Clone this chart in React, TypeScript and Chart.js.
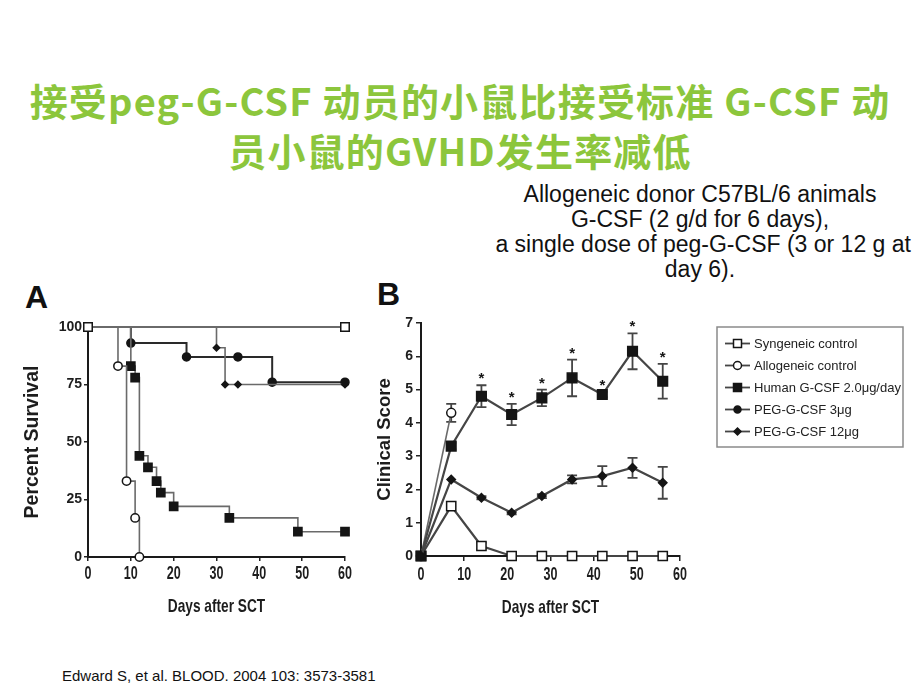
import React, { useEffect, useRef } from 'react';
import { Chart, registerables } from 'chart.js';

Chart.register(...registerables);

// ---------- Text ----------
const titleLines = ['接受peg-G-CSF 动员的小鼠比接受标准 G-CSF 动', '员小鼠的GVHD发生率减低'];
const noteLines = [
  'Allogeneic donor C57BL/6 animals',
  'G-CSF (2 g/d for 6 days),',
  ' a single dose of peg-G-CSF (3 or 12 g at',
  'day 6).',
];
const citation = 'Edward S, et al. BLOOD. 2004 103: 3573-3581';
const xAxisTitle = 'Days after SCT';
const survivalAxisTitle = 'Percent Survival';
const scoreAxisTitle = 'Clinical Score';
const legendLabels = [
  'Syngeneic control',
  'Allogeneic control',
  'Human G-CSF 2.0μg/day',
  'PEG-G-CSF 3μg',
  'PEG-G-CSF 12μg',
];

// ---------- Panel A: survival (Kaplan-Meier) ----------
const kmSyngeneicDays = [0, 60];
const kmSyngeneicPct = [100, 100];
const kmAllogeneicDays = [0, 7, 9, 11, 12];
const kmAllogeneicPct = [100, 83, 33, 17, 0];
const kmHumanDays = [0, 10, 11, 12, 14, 16, 17, 20, 33, 49, 60];
const kmHumanPct = [100, 83, 78, 44, 39, 33, 28, 22, 17, 11, 11];
const kmPeg3Days = [0, 10, 23, 35, 43, 60];
const kmPeg3Pct = [100, 93, 87, 87, 76, 76];
const kmPeg12Days = [0, 30, 32, 35, 60];
const kmPeg12Pct = [100, 91, 75, 75, 75];

// ---------- Panel B: clinical score ----------
const scoreDays = [0, 7, 14, 21, 28, 35, 42, 49, 56];
const scoreSyngeneic = [0, 1.5, 0.3, 0, 0, 0, 0, 0, 0];
const errSyngeneic = [0, 0, 0.1, 0, 0, 0, 0, 0, 0];
const scoreAllogeneicDays = [0, 7];
const scoreAllogeneic = [0, 4.3];
const errAllogeneic = [0, 0.27];
const scoreHuman = [0, 3.3, 4.8, 4.25, 4.75, 5.35, 4.85, 6.15, 5.25];
const errHuman = [0, 0.1, 0.33, 0.32, 0.25, 0.55, 0.08, 0.54, 0.52];
const sigHuman = [false, false, true, true, true, true, true, true, true];
const scorePeg12 = [0, 2.3, 1.75, 1.3, 1.8, 2.3, 2.4, 2.65, 2.2];
const errPeg12 = [0, 0, 0.05, 0.05, 0.06, 0.12, 0.3, 0.3, 0.48];

const INK = '#151515';
const LINE = '#454545';
const GRAYLINE = '#6a6a6a';
const TEXT = '#1d1d1d';
const SANS = '"Liberation Sans", Arial, sans-serif';

const pts = (xs: number[], ys: number[]) => xs.map((x, i) => ({ x, y: ys[i] }));

function drawMarker(ctx: CanvasRenderingContext2D, kind: string, x: number, y: number, r: number, filled: boolean) {
  ctx.save();
  ctx.beginPath();
  if (kind === 'rect') {
    ctx.rect(x - r, y - r, 2 * r, 2 * r);
  } else if (kind === 'diamond') {
    ctx.moveTo(x - r, y);
    ctx.lineTo(x, y - r);
    ctx.lineTo(x + r, y);
    ctx.lineTo(x, y + r);
    ctx.closePath();
  } else {
    ctx.arc(x, y, r, 0, Math.PI * 2);
  }
  ctx.fillStyle = filled ? INK : '#ffffff';
  ctx.fill();
  ctx.lineWidth = 1.5;
  ctx.strokeStyle = INK;
  ctx.stroke();
  ctx.restore();
}

const legendStyles = [
  { kind: 'rect', r: 4, filled: false },
  { kind: 'circle', r: 4, filled: false },
  { kind: 'rect', r: 4, filled: true },
  { kind: 'circle', r: 3.5, filled: true },
  { kind: 'diamond', r: 3.5, filled: true },
];

// Condensed (tall, narrow) x tick labels and x-axis title, like the scanned figure
function makeCondensedAxis(cfg: { tickCenter: number; titleCenter: number; title: string }) {
  return {
    id: 'condensedAxis',
    afterDraw(chart: any) {
      const { ctx, chartArea } = chart;
      const xs = chart.scales.x;
      ctx.save();
      ctx.fillStyle = TEXT;
      ctx.textAlign = 'center';
      ctx.textBaseline = 'alphabetic';
      const tickSize = 19;
      ctx.font = `bold ${tickSize}px ${SANS}`;
      xs.ticks.forEach((t: any) => {
        const px = xs.getPixelForValue(t.value);
        ctx.save();
        ctx.translate(px, chartArea.bottom + cfg.tickCenter + 0.358 * tickSize);
        ctx.scale(0.66, 1);
        ctx.fillText(String(t.value), 0, 0);
        ctx.restore();
      });
      const titleSize = 19;
      ctx.font = `bold ${titleSize}px ${SANS}`;
      ctx.translate((chartArea.left + chartArea.right) / 2, chartArea.bottom + cfg.titleCenter + 0.358 * titleSize);
      ctx.scale(0.72, 1);
      ctx.fillText(cfg.title, 0, 0);
      ctx.restore();
    },
  };
}

const errorBarPlugin = {
  id: 'errorBars',
  beforeDatasetsDraw(chart: any) {
    const { ctx } = chart;
    const xs = chart.scales.x;
    const ys = chart.scales.y;
    chart.data.datasets.forEach((ds: any) => {
      if (!ds.errors) return;
      ctx.save();
      ctx.strokeStyle = LINE;
      ctx.lineWidth = 1.8;
      ds.data.forEach((p: any, i: number) => {
        const e = ds.errors[i];
        if (!e) return;
        const px = xs.getPixelForValue(p.x);
        const top = ys.getPixelForValue(p.y + e);
        const bot = ys.getPixelForValue(p.y - e);
        ctx.beginPath();
        ctx.moveTo(px, top);
        ctx.lineTo(px, bot);
        ctx.moveTo(px - 5, top);
        ctx.lineTo(px + 5, top);
        ctx.moveTo(px - 5, bot);
        ctx.lineTo(px + 5, bot);
        ctx.stroke();
      });
      ctx.restore();
    });
  },
  afterDatasetsDraw(chart: any) {
    const { ctx } = chart;
    const xs = chart.scales.x;
    const ys = chart.scales.y;
    chart.data.datasets.forEach((ds: any) => {
      if (!ds.significant) return;
      ctx.save();
      ctx.fillStyle = INK;
      ctx.font = `bold 15px ${SANS}`;
      ctx.textAlign = 'center';
      ctx.textBaseline = 'middle';
      ds.data.forEach((p: any, i: number) => {
        if (!ds.significant[i]) return;
        const px = xs.getPixelForValue(p.x);
        const top = ys.getPixelForValue(p.y + (ds.errors ? ds.errors[i] : 0));
        ctx.fillText('*', px, top - 6);
      });
      ctx.restore();
    });
  },
};

const legendPlugin = {
  id: 'lineLegend',
  afterDraw(chart: any) {
    const { ctx } = chart;
    const left = 347;
    const top = 47;
    const right = 533;
    const bottom = 167;
    ctx.save();
    ctx.strokeStyle = '#8a8a8a';
    ctx.lineWidth = 1.5;
    ctx.strokeRect(left, top, right - left, bottom - top);
    ctx.font = `13px ${SANS}`;
    ctx.textBaseline = 'middle';
    ctx.textAlign = 'left';
    legendLabels.forEach((label, i) => {
      const y = 63.5 + i * 22;
      ctx.strokeStyle = LINE;
      ctx.lineWidth = 1.8;
      ctx.beginPath();
      ctx.moveTo(355, y);
      ctx.lineTo(380, y);
      ctx.stroke();
      const st = legendStyles[i];
      drawMarker(ctx, st.kind, 367.5, y, st.r, st.filled);
      ctx.fillStyle = '#222';
      ctx.fillText(label, 384, y + 0.5);
    });
    ctx.restore();
  },
};

function axisCommon(min: number, max: number, step: number, tickSize: number, tickLen: number, pad: number, showLabels: boolean) {
  return {
    type: 'linear',
    min,
    max,
    ticks: {
      display: showLabels,
      stepSize: step,
      color: TEXT,
      padding: pad,
      font: { family: SANS, size: tickSize, weight: 'bold' },
    },
    grid: { display: true, drawOnChartArea: false, drawTicks: true, tickLength: tickLen, color: '#222', lineWidth: 1.5 },
    border: { display: true, color: '#1a1a1a', width: 2 },
  };
}

function SurvivalChart() {
  const ref = useRef<HTMLCanvasElement>(null);
  useEffect(() => {
    const mk = (kind: string, r: number, filled: boolean, n: number, firstHidden: boolean) => ({
      pointStyle: kind === 'diamond' ? 'rectRot' : kind,
      pointRadius: Array.from({ length: n }, (_, i) => (firstHidden && i === 0 ? 0 : r)),
      pointBackgroundColor: filled ? INK : '#ffffff',
      pointBorderColor: INK,
      pointBorderWidth: 1.5,
    });
    const chart = new Chart(ref.current as HTMLCanvasElement, {
      type: 'line',
      data: {
        datasets: [
          {
            label: legendLabels[0],
            data: pts(kmSyngeneicDays, kmSyngeneicPct),
            borderColor: GRAYLINE,
            borderWidth: 1.8,
            stepped: 'before',
            clip: false,
            ...mk('rect', 6, false, kmSyngeneicDays.length, false),
          },
          {
            label: legendLabels[1],
            data: pts(kmAllogeneicDays, kmAllogeneicPct),
            borderColor: GRAYLINE,
            borderWidth: 1.6,
            stepped: 'before',
            clip: false,
            ...mk('circle', 4.2, false, kmAllogeneicDays.length, true),
          },
          {
            label: legendLabels[2],
            data: pts(kmHumanDays, kmHumanPct),
            borderColor: GRAYLINE,
            borderWidth: 1.6,
            stepped: 'before',
            clip: false,
            ...mk('rect', 5.8, true, kmHumanDays.length, true),
          },
          {
            label: legendLabels[4],
            data: pts(kmPeg12Days, kmPeg12Pct),
            borderColor: GRAYLINE,
            borderWidth: 1.6,
            stepped: 'before',
            clip: false,
            ...mk('diamond', 3.2, true, kmPeg12Days.length, true),
          },
          {
            label: legendLabels[3],
            data: pts(kmPeg3Days, kmPeg3Pct),
            borderColor: '#2a2a2a',
            borderWidth: 2,
            stepped: 'before',
            clip: false,
            ...mk('circle', 4, true, kmPeg3Days.length, true),
          },
        ],
      },
      options: {
        animation: false,
        responsive: false,
        maintainAspectRatio: false,
        layout: { padding: { left: 0, right: 25, top: 47, bottom: 0 } },
        plugins: { legend: { display: false }, tooltip: { enabled: false } },
        scales: {
          x: {
            ...axisCommon(0, 60, 10, 16, 4, 3, false),
            afterFit: (s: any) => {
              s.height = 63;
            },
          },
          y: {
            ...axisCommon(0, 100, 25, 14, 4, 2, true),
            afterFit: (s: any) => {
              s.width = 68;
            },
            title: {
              display: true,
              text: survivalAxisTitle,
              color: TEXT,
              padding: { top: 1, bottom: 0 },
              font: { family: SANS, size: 19.5, weight: 'bold' },
            },
          },
        },
      } as any,
      plugins: [makeCondensedAxis({ tickCenter: 15.5, titleCenter: 48.5, title: xAxisTitle })],
    });
    return () => chart.destroy();
  }, []);
  return <canvas ref={ref} width={350} height={340} style={{ position: 'absolute', left: 20, top: 280, width: 350, height: 340 }} />;
}

function ScoreChart() {
  const ref = useRef<HTMLCanvasElement>(null);
  useEffect(() => {
    const style = (kind: string, r: number, filled: boolean) => ({
      pointStyle: kind === 'diamond' ? 'rectRot' : kind,
      pointRadius: r,
      pointBackgroundColor: filled ? INK : '#ffffff',
      pointBorderColor: INK,
      pointBorderWidth: 1.5,
      borderColor: LINE,
      borderWidth: 2.2,
      clip: false,
    });
    const chart = new Chart(ref.current as HTMLCanvasElement, {
      type: 'line',
      data: {
        datasets: [
          {
            label: legendLabels[4],
            data: pts(scoreDays, scorePeg12),
            errors: errPeg12,
            ...style('diamond', 4.2, true),
          },
          {
            label: legendLabels[2],
            data: pts(scoreDays, scoreHuman),
            errors: errHuman,
            significant: sigHuman,
            ...style('rect', 6.8, true),
          },
          {
            label: legendLabels[1],
            data: pts(scoreAllogeneicDays, scoreAllogeneic),
            errors: errAllogeneic,
            ...style('circle', 4.5, false),
            borderColor: GRAYLINE,
            borderWidth: 1.6,
          },
          {
            label: legendLabels[0],
            data: pts(scoreDays, scoreSyngeneic),
            errors: errSyngeneic,
            ...style('rect', 6.5, false),
          },
        ],
      } as any,
      options: {
        animation: false,
        responsive: false,
        maintainAspectRatio: false,
        layout: { padding: { left: 0, right: 230, top: 43, bottom: 0 } },
        plugins: { legend: { display: false }, tooltip: { enabled: false } },
        scales: {
          x: {
            ...axisCommon(0, 60, 10, 16, 5, 2, false),
            afterFit: (s: any) => {
              s.height = 64;
            },
          },
          y: {
            ...axisCommon(0, 7, 1, 14, 5, 3, true),
            afterFit: (s: any) => {
              s.width = 51;
            },
            title: {
              display: true,
              text: scoreAxisTitle,
              color: TEXT,
              padding: { top: 4, bottom: 0 },
              font: { family: SANS, size: 18.5, weight: 'bold' },
            },
          },
        },
      } as any,
      plugins: [errorBarPlugin, legendPlugin, makeCondensedAxis({ tickCenter: 17.5, titleCenter: 50.5, title: xAxisTitle })],
    });
    return () => chart.destroy();
  }, []);
  return <canvas ref={ref} width={540} height={340} style={{ position: 'absolute', left: 370, top: 280, width: 540, height: 340 }} />;
}

export default function App() {
  return (
    <div style={{ position: 'absolute', left: 0, top: 0, width: 920, height: 690, background: '#ffffff', overflow: 'hidden' }}>
      <div
        style={{
          position: 'absolute',
          left: 0,
          top: 75,
          width: 920,
          textAlign: 'center',
          color: '#8cc63c',
          fontFamily: '"Noto Sans CJK SC", sans-serif',
          fontWeight: 700,
          fontSize: 38,
          letterSpacing: '1.2px',
          lineHeight: '50px',
          whiteSpace: 'pre',
        }}
      >
        {titleLines.map((t, i) => (
          <div key={i}>{t}</div>
        ))}
      </div>
      <div
        style={{
          position: 'absolute',
          left: 450,
          top: 182,
          width: 500,
          textAlign: 'center',
          color: '#111',
          fontFamily: SANS,
          fontSize: 23,
          lineHeight: '25px',
          whiteSpace: 'pre',
        }}
      >
        {noteLines.map((t, i) => (
          <div key={i}>{t}</div>
        ))}
      </div>
      <div style={{ position: 'absolute', left: 25, top: 281, fontFamily: SANS, fontWeight: 700, fontSize: 32, lineHeight: '32px', color: '#111' }}>A</div>
      <div style={{ position: 'absolute', left: 377, top: 278, fontFamily: SANS, fontWeight: 700, fontSize: 32, lineHeight: '32px', color: '#111' }}>B</div>
      <SurvivalChart />
      <ScoreChart />
      <div style={{ position: 'absolute', left: 62, top: 668, fontFamily: SANS, fontSize: 15, lineHeight: '16px', color: '#111' }}>{citation}</div>
    </div>
  );
}
